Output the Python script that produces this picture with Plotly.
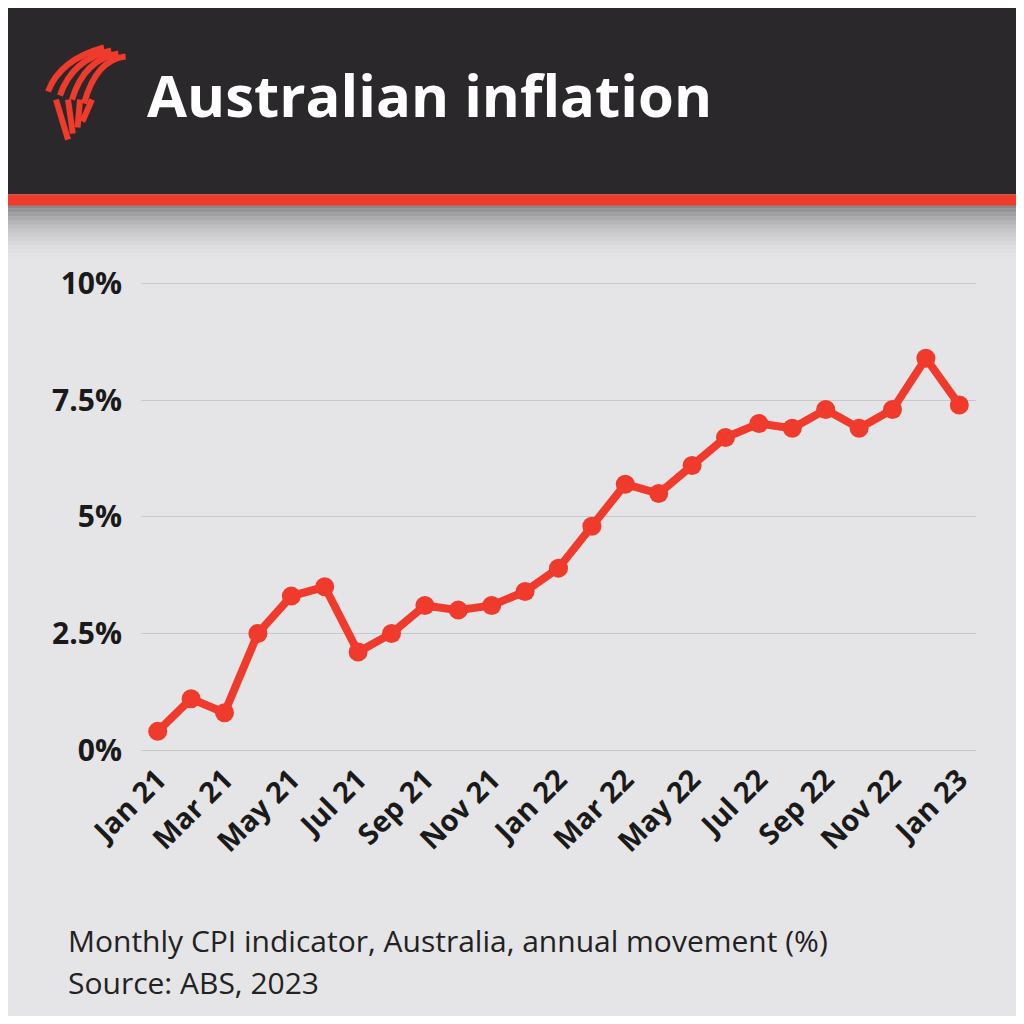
import plotly.graph_objects as go

months = ["Jan 21","Feb 21","Mar 21","Apr 21","May 21","Jun 21","Jul 21","Aug 21","Sep 21","Oct 21","Nov 21","Dec 21",
          "Jan 22","Feb 22","Mar 22","Apr 22","May 22","Jun 22","Jul 22","Aug 22","Sep 22","Oct 22","Nov 22","Dec 22","Jan 23"]
cpi = [0.4,1.1,0.8,2.5,3.3,3.5,2.1,2.5,3.1,3.0,3.1,3.4,3.9,4.8,5.7,5.5,6.1,6.7,7.0,6.9,7.3,6.9,7.3,8.4,7.4]
tick_vals = [0,2.5,5,7.5,10]
tick_text = ["0%","2.5%","5%","7.5%","10%"]

S = 1008  # page body margin of 8px
OFF = 8
YMAX = 10.1
L, R, B = 133, 40, 266
PH = (742 - 276) * YMAX / 10
T = S - B - PH
PW = S - L - R
def px(x): return (x - OFF - L) / PW
def py(y): return (S - B - (y - OFF)) / PH

RED = "#f03a2b"
fig = go.Figure(go.Scatter(x=months, y=cpi, mode="lines+markers",
    line=dict(color=RED, width=8), marker=dict(color=RED, size=19)))

shapes = []
shapes.append(dict(type="rect", xref="paper", yref="paper", x0=px(0), x1=px(1030), y0=py(1030), y1=py(0),
                   fillcolor="#e5e4e6", line_width=0, layer="below"))
n = 14
for i in range(n):
    y0 = 205 + i * 4
    shapes.append(dict(type="rect", xref="paper", yref="paper", x0=px(0), x1=px(1030), y0=py(y0 + 4), y1=py(y0),
                       fillcolor="rgba(60,60,65,%.3f)" % (0.55 * (1 - i / n) ** 2), line_width=0, layer="below"))
shapes.append(dict(type="rect", xref="paper", yref="paper", x0=px(0), x1=px(1030), y0=py(195), y1=py(0),
                   fillcolor="#2a282b", line_width=0))
shapes.append(dict(type="rect", xref="paper", yref="paper", x0=px(0), x1=px(1030), y0=py(206), y1=py(195),
                   fillcolor=RED, line_width=0))
for k in range(4):
    dx = k * 12
    shapes.append(dict(type="path", xref="paper", yref="paper",
        path="M %f,%f Q %f,%f %f,%f" % (px(48+dx), py(92+k*4), px(60+dx), py(60), px(104+dx*0.6), py(48+k*3)),
        line=dict(color=RED, width=6)))
    shapes.append(dict(type="line", xref="paper", yref="paper",
        x0=px(56+dx), y0=py(100), x1=px(68+dx*0.4), y1=py(140-k*6), line=dict(color=RED, width=6)))

fig.update_layout(
    width=S, height=S, margin=dict(l=L, r=R, t=T, b=B),
    paper_bgcolor="#e5e4e6", plot_bgcolor="rgba(0,0,0,0)",
    shapes=shapes, showlegend=False,
    font=dict(family="Open Sans", color="#1a1a1a"),
    xaxis=dict(range=[-0.5, 24.5], tickmode="array", tickvals=months[::2], tickangle=-45,
               tickfont=dict(size=29, family="Open Sans", weight="bold"), showgrid=False,
               showline=True, linecolor="#c8c8c8", ticks=""),
    yaxis=dict(range=[0, YMAX], tickvals=tick_vals, ticktext=tick_text,
               tickfont=dict(size=30, family="Open Sans", weight="bold"),
               gridcolor="#c8c8c8", gridwidth=1, zeroline=False, ticks="", ticklabelstandoff=18),
    annotations=[
        dict(text="<b>Australian inflation</b>", xref="paper", yref="paper", x=px(145), y=py(95),
             xanchor="left", yanchor="middle", showarrow=False, font=dict(size=58, color="white", family="Open Sans")),
        dict(text="Monthly CPI indicator, Australia, annual movement (%)", xref="paper", yref="paper",
             x=px(66), y=py(940), xanchor="left", yanchor="middle", showarrow=False, font=dict(size=30, color="#222")),
        dict(text="Source: ABS, 2023", xref="paper", yref="paper",
             x=px(66), y=py(982), xanchor="left", yanchor="middle", showarrow=False, font=dict(size=30, color="#222")),
    ])
fig.write_html("out.html")
